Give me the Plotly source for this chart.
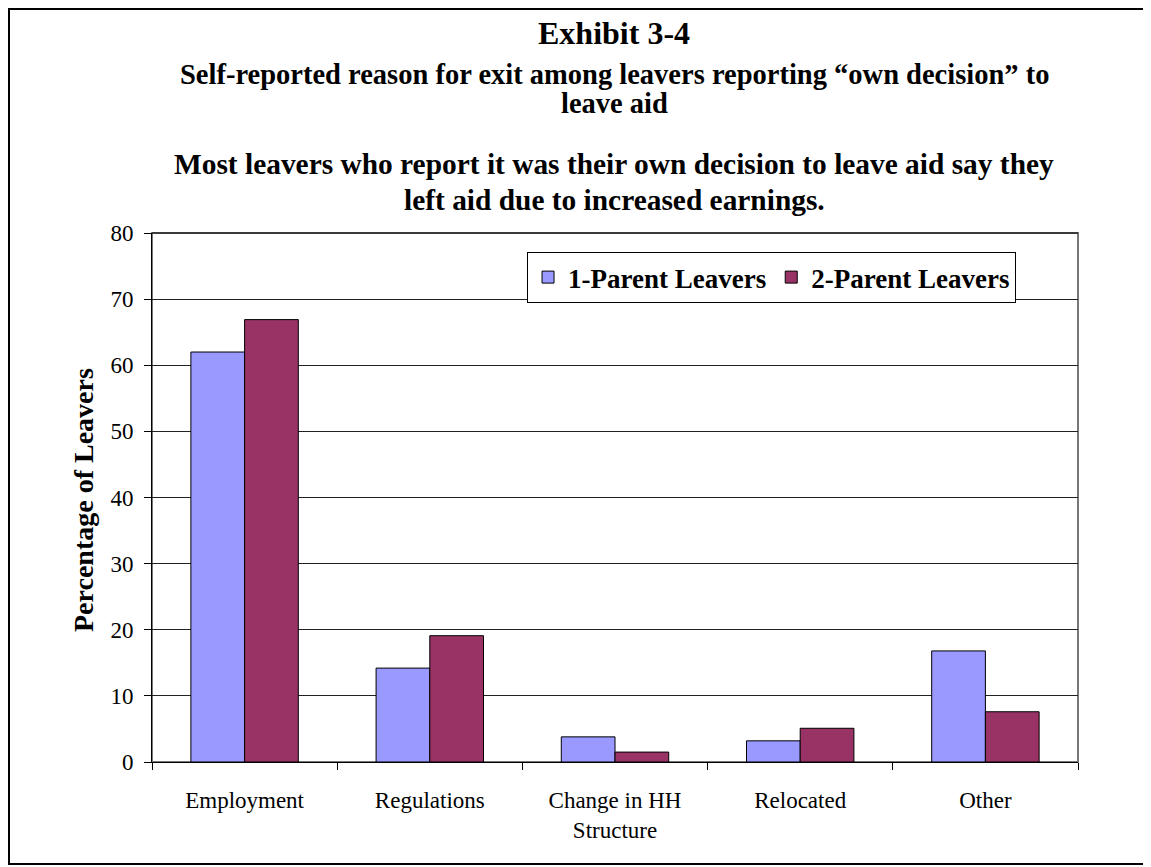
import plotly.graph_objects as go

# Data
categories = ["Employment", "Regulations", "Change in HH<br>Structure", "Relocated", "Other"]
one_parent = [62.0, 14.2, 3.8, 3.2, 16.8]
two_parent = [66.9, 19.1, 1.5, 5.1, 7.6]

# the page body has an 8px margin, so the figure is laid out 8px smaller
W, H = 1143, 859
L, R, T, B = 144, 73, 225, 105
pw, ph = W - L - R, H - T - B

serif = "Liberation Serif, Times New Roman, serif"

fig = go.Figure()
fig.add_trace(go.Bar(x=categories, y=one_parent, name="1-Parent Leavers",
                     marker=dict(color="#9999FF", line=dict(color="black", width=1))))
fig.add_trace(go.Bar(x=categories, y=two_parent, name="2-Parent Leavers",
                     marker=dict(color="#993366", line=dict(color="black", width=1))))

fig.update_layout(
    width=W, height=H,
    margin=dict(l=L, r=R, t=T, b=B),
    paper_bgcolor="white", plot_bgcolor="white",
    font=dict(family=serif, color="black", size=23),
    barmode="group", bargap=0.42, bargroupgap=0,
    showlegend=True,
    legend=dict(orientation="h", x=0.405, y=0.964, xanchor="left", yanchor="top",
                bordercolor="black", borderwidth=1, bgcolor="white",
                font=dict(size=27, family=serif, weight="bold"),
                itemwidth=30, traceorder="normal", tracegroupgap=0),
    xaxis=dict(showline=True, linecolor="black", linewidth=1, ticks="outside",
               tickson="boundaries", ticklen=7, tickcolor="black",
               ticklabelstandoff=17, tickfont=dict(size=23), showgrid=False),
    yaxis=dict(range=[0, 80], dtick=10, showline=True, linecolor="black", linewidth=1,
               ticks="outside", ticklen=7, tickcolor="black", ticklabelstandoff=6,
               showgrid=True, gridcolor="#222", gridwidth=1, zeroline=False,
               tickfont=dict(size=23)),
)

# Plot-area border (gray right side)
fig.add_shape(type="rect", xref="paper", yref="paper", x0=0, x1=1, y0=0, y1=1,
              line=dict(color="#777", width=2), layer="below")
fig.add_shape(type="line", xref="paper", yref="paper", x0=0, x1=1, y0=1, y1=1,
              line=dict(color="black", width=1))

# Outer chart border
fig.add_shape(type="rect", xref="paper", yref="paper",
              x0=(1 - L) / pw, x1=(W - 2 - L) / pw,
              y0=-(H - 3 - T - ph) / ph, y1=1 + (T - 1) / ph,
              line=dict(color="black", width=2))

# Y axis title
fig.add_annotation(text="<b>Percentage of Leavers</b>", xref="paper", yref="paper",
                   x=(76 - L) / pw, y=(H - B - 492) / ph, xanchor="center", yanchor="middle",
                   textangle=-90, showarrow=False, font=dict(size=28, family=serif))

# Titles
title_lines = [
    ("Exhibit 3-4", 25, 32),
    ("Self-reported reason for exit among leavers reporting \u201cown decision\u201d to", 66, 28.5),
    ("leave aid", 95, 28.5),
    ("Most leavers who report it was their own decision to leave aid say they", 156, 29.4),
    ("left aid due to increased earnings.", 192, 29.4),
]
for text, ypx, size in title_lines:
    fig.add_annotation(text="<b>" + text + "</b>", xref="paper", yref="paper",
                       x=(606 - L) / pw, y=(H - B - ypx) / ph, xanchor="center", yanchor="middle",
                       showarrow=False, font=dict(size=size, family=serif))

fig.write_html("out.html")
